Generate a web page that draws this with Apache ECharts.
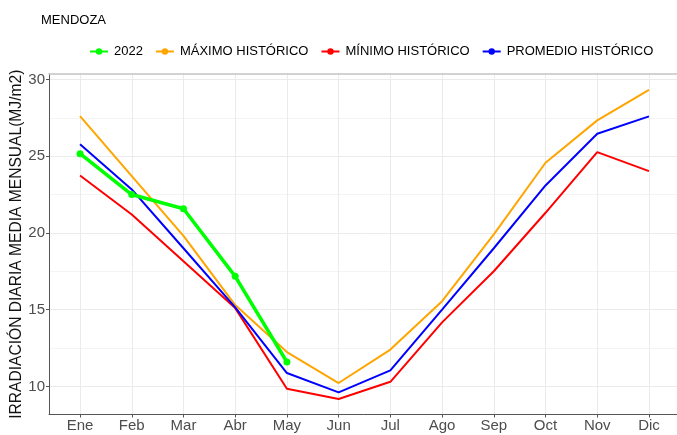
<!DOCTYPE html>
<html>
<head>
<meta charset="utf-8">
<script src="https://cdn.jsdelivr.net/npm/echarts@6/dist/echarts.min.js"></script>
<style>
html, body { margin: 0; padding: 0; background: #fff; }
#chart { width: 677px; height: 435px; }
</style>
</head>
<body>
<div id="chart"></div>
<script>
// meses
var meses = ['Ene','Feb','Mar','Abr','May','Jun','Jul','Ago','Sep','Oct','Nov','Dic'];
// irradiacion diaria media mensual (MJ/m2)
var anio2022 = [25.16, 22.5, 21.57, 17.17, 11.59];
var maximo   = [27.6, 23.7, 19.8, 15.3, 12.24, 10.22, 12.4, 15.55, 19.9, 24.57, 27.33, 29.31];
var minimo   = [23.74, 21.2, 18.15, 15.1, 9.85, 9.18, 10.3, 14.17, 17.5, 21.31, 25.26, 24.02];
var promedio = [25.77, 22.83, 19.0, 15.15, 10.87, 9.61, 11.04, 15.0, 19.0, 23.09, 26.46, 27.59];
var yTicks = [10, 15, 20, 25, 30];
var yMinor = [12.5, 17.5, 22.5, 27.5];

var FONT = '"Liberation Sans", Arial, sans-serif';
var monthIdx = meses.map(function(m, i){ return i; });

function pares(arr) { // [indice, valor]
	return arr.map(function(v, i){ return [i, v]; });
}

var chart = echarts.init(document.getElementById('chart'));

var serie = function(name, data, color, width, showSym) {
	return {
		name: name,
		type: 'line',
		data: pares(data),
		symbol: 'circle',
		symbolSize: showSym ? 7 : 6,
		showSymbol: showSym,
		lineStyle: { color: color, width: width },
		itemStyle: { color: color },
		animation: false,
		z: showSym ? 5 : 3
	};
};

var option = {
	backgroundColor: '#fff',
	textStyle: { fontFamily: FONT },
	title: {
		text: 'MENDOZA',
		left: 36, top: 9,
		textStyle: { fontSize: 13, fontWeight: 'normal', color: '#000', fontFamily: FONT }
	},
	legend: {
		left: 84, top: 40,
		itemWidth: 18, itemHeight: 8, itemGap: 12,
		textStyle: { fontSize: 13, color: '#000', fontFamily: FONT, padding: [0, 0, 0, 1] },
		data: ['2022', 'MÁXIMO HISTÓRICO', 'MÍNIMO HISTÓRICO', 'PROMEDIO HISTÓRICO']
	},
	grid: { left: 49, right: -3, top: 74, bottom: 20.5, containLabel: false, outerBoundsMode: 'none' },
	xAxis: [{
		type: 'value',
		min: -0.6, max: 11.6,
		minInterval: 1, maxInterval: 1,
		axisLine: { show: true, onZero: false, lineStyle: { color: '#555', width: 1 } },
		axisTick: { show: true, length: 3, customValues: monthIdx, lineStyle: { color: '#555' } },
		axisLabel: {
			customValues: monthIdx,
			margin: 4, fontSize: 15, color: '#4d4d4d', fontFamily: FONT,
			formatter: function(v){ return meses[Math.round(v)] || ''; }
		},
		splitLine: { show: true, lineStyle: { color: '#ebebeb', width: 1 } }
	}, {
		type: 'value', position: 'top',
		min: -0.6, max: 11.6,
		axisLine: { show: true, onZero: false, lineStyle: { color: '#c4c4c4', width: 1.5 } },
		axisTick: { show: false }, axisLabel: { show: false }, splitLine: { show: false }
	}],
	yAxis: [{
		type: 'value',
		min: 8.17, max: 30.35,
		minInterval: 2.5, maxInterval: 2.5,
		name: 'IRRADIACIÓN DIARIA MEDIA MENSUAL(MJ/m2)',
		nameLocation: 'middle', nameRotate: 90, nameGap: 24, nameMoveOverlap: false,
		nameTextStyle: { fontSize: 15.6, color: '#111', fontFamily: FONT },
		axisLine: { show: true, onZero: false, lineStyle: { color: '#555', width: 1 } },
		axisTick: { show: true, length: 3, customValues: yTicks, lineStyle: { color: '#555' } },
		axisLabel: { customValues: yTicks, margin: 4, fontSize: 15, color: '#4d4d4d', fontFamily: FONT },
		splitLine: { show: true, lineStyle: { color: '#ebebeb', width: 1 } }
	}, {
		type: 'value', position: 'right',
		min: 8.17, max: 30.35,
		minInterval: 2.5, maxInterval: 2.5,
		axisLine: { show: false, onZero: false },
		axisTick: { show: false, customValues: yMinor },
		axisLabel: { show: false },
		splitLine: { show: true, lineStyle: { color: '#f4f4f4', width: 1 } }
	}],
	series: [
		serie('MÍNIMO HISTÓRICO', minimo, '#ff0000', 2, false),
		serie('MÁXIMO HISTÓRICO', maximo, '#ffa500', 2, false),
		serie('PROMEDIO HISTÓRICO', promedio, '#0000ff', 2, false),
		serie('2022', anio2022, '#00ff00', 3.5, true)
	]
};

chart.setOption(option);
</script>
</body>
</html>
